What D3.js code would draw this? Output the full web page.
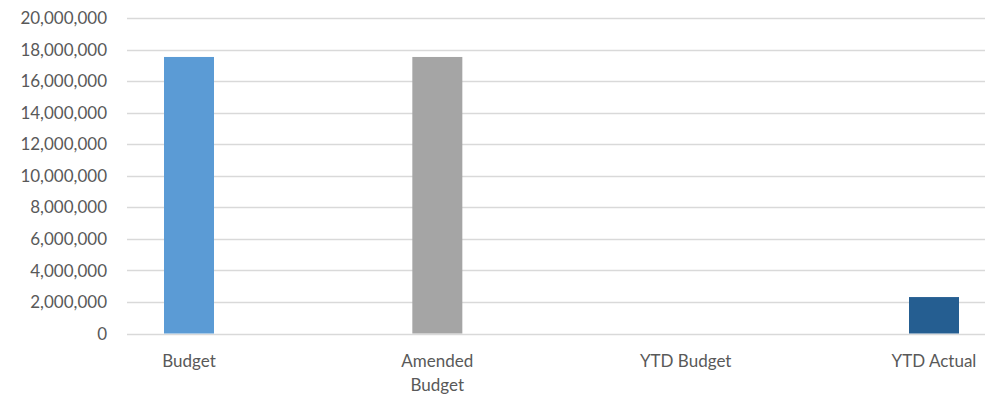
<!DOCTYPE html>
<html><head><meta charset="utf-8">
<script src="https://cdn.jsdelivr.net/npm/d3@7"></script>
<style>body{margin:0;background:#fff;}svg{display:block;font-family:Lato, "Open Sans", sans-serif;}</style>
</head><body>
<script>
const categories = [["Budget"], ["Amended", "Budget"], ["YTD Budget"], ["YTD Actual"]];
const values = [17530000, 17530000, 0, 2310000];
const colors = ["#5B9BD5", "#A5A5A5", "#4472C4", "#255E91"];
const yTicks = [0, 2000000, 4000000, 6000000, 8000000, 10000000, 12000000, 14000000, 16000000, 18000000, 20000000];

const W = 985, H = 396;
const svg = d3.select("body").append("svg").attr("width", W).attr("height", H);
const plotL = 127, plotR = 985, plotTop = 18, plotBottom = 333.5;

const y = d3.scaleLinear().domain([0, 20000000]).range([plotBottom, plotTop]);
const x = d3.scalePoint().domain(d3.range(categories.length)).range([189, 934]);
const barW = 50;

svg.append("g").selectAll("line").data(yTicks).join("line")
  .attr("x1", plotL).attr("x2", plotR)
  .attr("y1", d => Math.round(y(d)) + 0.5).attr("y2", d => Math.round(y(d)) + 0.5)
  .attr("stroke", "#D9D9D9").attr("stroke-width", 1.3);

const fmt = d3.format(",");
svg.append("g").selectAll("text").data(yTicks).join("text")
  .attr("x", 107).attr("y", d => y(d)).attr("dy", "0.36em")
  .attr("text-anchor", "end").attr("fill", "#595959").attr("font-size", 17)
  .text(d => fmt(d));

svg.append("g").selectAll("rect").data(values).join("rect")
  .attr("x", (d, i) => x(i) - barW / 2).attr("width", barW)
  .attr("y", d => y(d)).attr("height", d => plotBottom - y(d))
  .attr("fill", (d, i) => colors[i]);

const lab = svg.append("g").selectAll("text").data(categories).join("text")
  .attr("text-anchor", "middle").attr("fill", "#595959").attr("font-size", 17)
  .attr("x", (d, i) => x(i)).attr("y", 361);
lab.selectAll("tspan").data(d => d).join("tspan")
  .attr("x", function() { return this.parentNode.getAttribute("x"); })
  .attr("dy", (d, j) => j === 0 ? "0.36em" : "24px")
  .text(d => d);
</script>
</body></html>
